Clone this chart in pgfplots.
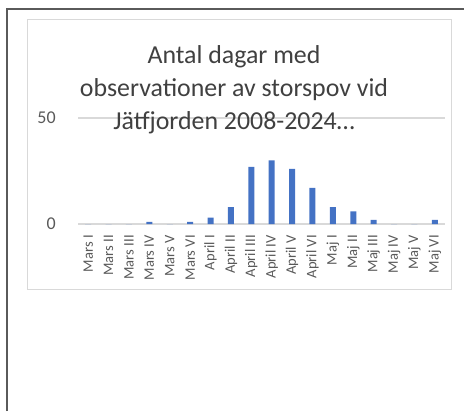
\documentclass[border=0pt]{standalone}
\usepackage{fontspec}
\setmainfont{Carlito}
\usepackage{pgfplots}
\pgfplotsset{compat=1.18}
\definecolor{barblue}{HTML}{4472C4}
\definecolor{txtgray}{HTML}{595959}
\definecolor{titlegray}{HTML}{404040}
\definecolor{gridgray}{HTML}{D9D9D9}
\definecolor{framegray}{HTML}{5A5A5A}

\begin{document}
\begin{tikzpicture}[x=0.75pt,y=-0.75pt]
% page in pixel units, origin top left
\path[use as bounding box] (0,0) rectangle (464,411);
\draw[framegray, line width=1.5pt] (7,411) -- (7,9) -- (464,9);
\draw[gridgray, line width=0.75pt] (27,19) rectangle (451,289);

\begin{axis}[at={(58.5pt,-168pt)}, anchor=south west,
  scale only axis, width=275.25pt, height=79.5pt,
  xmin=-0.5, xmax=17.5, ymin=0, ymax=50,
  ybar, bar width=4.5pt,
  xtick={0,...,17},
  xticklabels={Mars I,Mars II,Mars III,Mars IV,Mars V,Mars VI,
               April I,April II,April III,April IV,April V,April VI,
               Maj I,Maj II,Maj III,Maj IV,Maj V,Maj VI},
  ytick={0,50}, ymajorgrids,
  grid style={gridgray, line width=1.1pt},
  axis line style={draw=none}, major tick length=0pt,
  /pgf/number format/assume math mode=true,
  tick label style={text=txtgray},
  xticklabel style={rotate=90, anchor=east, inner sep=0pt,
                    font=\normalfont\fontsize{10.9}{12}\selectfont},
  xticklabel shift=8.25pt,
  yticklabel style={inner sep=0pt, font=\normalfont\fontsize{13.5}{15}\selectfont},
  yticklabel shift=16.5pt,
]
\addplot[fill=barblue, draw=none] coordinates {
  (0,0) (1,0) (2,0) (3,1) (4,0) (5,1)
  (6,3) (7,8) (8,27) (9,30) (10,26) (11,17)
  (12,8) (13,6) (14,2) (15,0) (16,0) (17,2)
};
\end{axis}

\begin{scope}[every node/.style={text=titlegray, font=\fontsize{19.4}{24}\selectfont, anchor=base, inner sep=0pt}]
\node at (234,63) {Antal dagar med};
\node at (234,96) {observationer av storspov vid};
\node at (234,129) {Jätfjorden 2008-2024…};
\end{scope}
\end{tikzpicture}
\end{document}
